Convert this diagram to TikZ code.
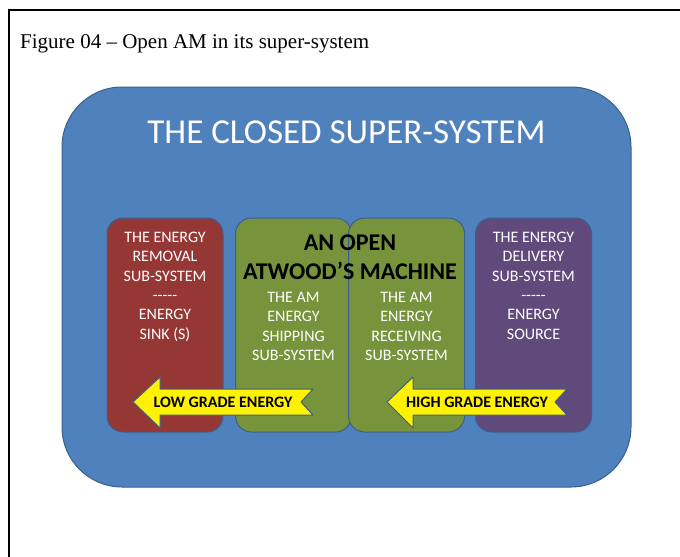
\documentclass[tikz,border=0pt]{standalone}
\usepackage{fontspec}
\setmainfont{Liberation Serif}
\newfontfamily\calibri{Carlito}
\usetikzlibrary{shapes}

\definecolor{superblue}{HTML}{4F81BD}
\definecolor{edgeblue}{HTML}{3A5F8E}
\definecolor{sinkred}{HTML}{953735}
\definecolor{amgreen}{HTML}{77933C}
\definecolor{sourcepurple}{HTML}{604A7B}

\tikzset{
  subsystem/.style={draw=edgeblue,line width=1bp,rounded corners=16bp,minimum width=116bp,minimum height=214bp},
  boxtext/.style={anchor=north,align=center,inner sep=0pt,text=white,font=\calibri\fontsize{16bp}{19.3bp}\selectfont},
  energyarrow/.style={fill=yellow,draw=edgeblue,line width=1bp,line join=round},
  arrowtext/.style={anchor=base,inner sep=0pt,font=\calibri\bfseries\fontsize{16bp}{18bp}\selectfont}
}

\begin{document}
\begin{tikzpicture}
\useasboundingbox (0bp,0bp) rectangle (680bp,-557bp);

\draw [line width=2bp] (680bp,-10bp) -- (9bp,-10bp) -- (9bp,-557bp);
\node (caption) at (20bp,-48bp)[anchor=base west,inner sep=0pt,font=\fontsize{21bp}{25bp}\selectfont] {Figure 04 -- Open AM in its super-system};

\node (closed) at (346.5bp,-287bp)[fill=superblue,draw=edgeblue,line width=1bp,rounded corners=60bp,minimum width=569bp,minimum height=400bp] {};
\node (closedtitle) at (346.5bp,-143bp)[anchor=base,inner sep=0pt,text=white,font=\calibri\fontsize{35bp}{40bp}\selectfont] {THE CLOSED SUPER-SYSTEM};

\node (removal) at (165bp,-325bp)[subsystem,fill=sinkred] {};
\node (shipping) at (293.5bp,-325bp)[subsystem,fill=amgreen] {};
\node (receiving) at (406.5bp,-325bp)[subsystem,fill=amgreen] {};
\node (delivery) at (533.5bp,-325bp)[subsystem,fill=sourcepurple] {};

\node (removaltext) at (165bp,-232bp)[boxtext] {THE ENERGY\\REMOVAL\\SUB-SYSTEM\\-{}-{}-{}-{}-\\ENERGY\\SINK (S)};
\node (shippingtext) at (293.5bp,-292bp)[boxtext] {THE AM\\ENERGY\\SHIPPING\\SUB-SYSTEM};
\node (receivingtext) at (406.5bp,-292bp)[boxtext] {THE AM\\ENERGY\\RECEIVING\\SUB-SYSTEM};
\node (deliverytext) at (533.5bp,-232bp)[boxtext] {THE ENERGY\\DELIVERY\\SUB-SYSTEM\\-{}-{}-{}-{}-\\ENERGY\\SOURCE};
\node (openam) at (350bp,-234.5bp)[anchor=north,align=center,inner sep=0pt,font=\calibri\bfseries\fontsize{24bp}{29bp}\selectfont] {AN OPEN\\ATWOOD’S MACHINE};

% energy flow, right to left
\draw [energyarrow] (133bp,-402bp) -- (160bp,-377bp) -- (160bp,-389bp) -- (313bp,-389bp) -- (301bp,-402bp) -- (313bp,-415bp) -- (160bp,-415bp) -- (160bp,-428bp) -- cycle;
\draw [energyarrow] (387bp,-402bp) -- (413bp,-377bp) -- (413bp,-389bp) -- (567bp,-389bp) -- (555bp,-402bp) -- (567bp,-415bp) -- (413bp,-415bp) -- (413bp,-428bp) -- cycle;
\node (lowgrade) at (223bp,-407.5bp)[arrowtext] {LOW GRADE ENERGY};
\node (highgrade) at (477bp,-407.5bp)[arrowtext] {HIGH GRADE ENERGY};
\end{tikzpicture}
\end{document}
